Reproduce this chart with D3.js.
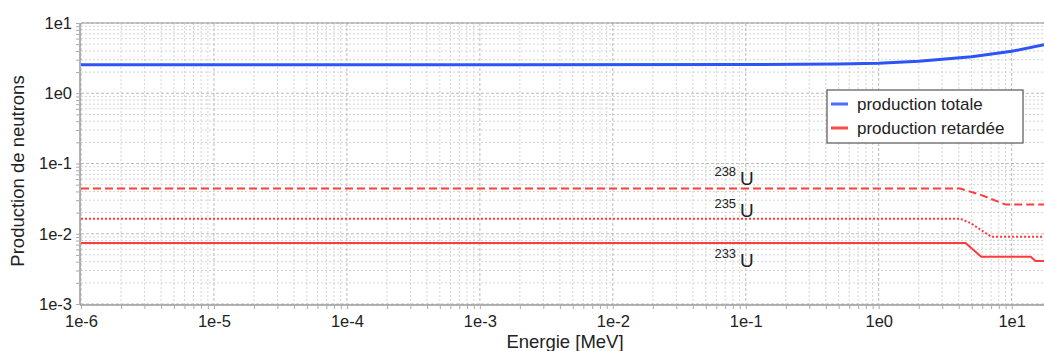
<!DOCTYPE html>
<html>
<head>
<meta charset="utf-8">
<script src="https://cdn.jsdelivr.net/npm/d3@7"></script>
<style>
  body { margin: 0; background: #fff; }
  svg { font-family: "Liberation Sans", Arial, sans-serif; }
</style>
</head>
<body>
<svg id="chart" width="1044" height="351"></svg>
<script>
// data (energy in MeV, production)
var totalE   = [1e-6, 1e-3, 0.1, 0.5, 1, 2, 5, 10, 17.5]
var totalV   = [2.55, 2.55, 2.56, 2.6, 2.68, 2.85, 3.3, 3.95, 4.9]

var u238E = [1e-6, 4.1, 5.8, 9.0, 17.5]
var u238V = [0.044, 0.044, 0.036, 0.026, 0.026]

var u235E = [1e-6, 4.1, 4.9, 7.0, 17.5]
var u235V = [0.0164, 0.0164, 0.0142, 0.0091, 0.0091]

var u233E = [1e-6, 4.5, 5.9, 13.9, 15.1, 17.5]
var u233V = [0.0074, 0.0074, 0.0047, 0.0047, 0.0041, 0.0041]

var xTickLabels = ["1e-6", "1e-5", "1e-4", "1e-3", "1e-2", "1e-1", "1e0", "1e1"]
var yTickLabels = ["1e-3", "1e-2", "1e-1", "1e0", "1e1"]

var isotopeLabels = [
    {mass: "238", E: 0.115, v: 0.05},
    {mass: "235", E: 0.115, v: 0.0175},
    {mass: "233", E: 0.115, v: 0.0034}
]

var svg = d3.select("#chart")
var margin = {top: 23, right: 0, bottom: 47, left: 81},
    width = 1044 - margin.left - margin.right,
    height = 351 - margin.top - margin.bottom

var x = d3.scaleLog().domain([1e-6, 17.5]).range([margin.left, margin.left + width])
var y = d3.scaleLog().domain([1e-3, 10]).range([margin.top + height, margin.top])

// grid lines
var minorX = [], minorY = []
for (var p = -6; p <= 1; p++) {
    for (var m = 2; m <= 9; m++) {
        var v = m * Math.pow(10, p)
        if (v < x.domain()[1]) minorX.push(v)
    }
}
for (var p = -3; p < 1; p++) {
    for (var m = 2; m <= 9; m++) minorY.push(m * Math.pow(10, p))
}
var majorX = xTickLabels.map(function(s){ return +s })
var majorY = yTickLabels.map(function(s){ return +s })

var grid = svg.append("g")
grid.selectAll(".gxm").data(minorX).enter().append("line")
    .attr("x1", function(d){ return x(d) }).attr("x2", function(d){ return x(d) })
    .attr("y1", margin.top).attr("y2", margin.top + height)
    .attr("stroke", "#d4d4d4").attr("stroke-dasharray", "2,2")
grid.selectAll(".gym").data(minorY).enter().append("line")
    .attr("x1", margin.left).attr("x2", margin.left + width)
    .attr("y1", function(d){ return y(d) }).attr("y2", function(d){ return y(d) })
    .attr("stroke", "#d4d4d4").attr("stroke-dasharray", "2,2")
grid.selectAll(".gx").data(majorX).enter().append("line")
    .attr("x1", function(d){ return x(d) }).attr("x2", function(d){ return x(d) })
    .attr("y1", margin.top).attr("y2", margin.top + height)
    .attr("stroke", "#bbb").attr("stroke-dasharray", "3,2")
grid.selectAll(".gy").data(majorY).enter().append("line")
    .attr("x1", margin.left).attr("x2", margin.left + width)
    .attr("y1", function(d){ return y(d) }).attr("y2", function(d){ return y(d) })
    .attr("stroke", "#bbb").attr("stroke-dasharray", "3,2")

// frame
svg.append("line").attr("x1", margin.left).attr("x2", margin.left + width)
    .attr("y1", margin.top).attr("y2", margin.top).attr("stroke", "#999")
svg.append("line").attr("x1", margin.left - 1).attr("x2", margin.left - 1)
    .attr("y1", margin.top).attr("y2", margin.top + height + 1).attr("stroke", "#999").attr("stroke-width", 1.5)
svg.append("line").attr("x1", margin.left - 1).attr("x2", margin.left + width)
    .attr("y1", margin.top + height + 1).attr("y2", margin.top + height + 1).attr("stroke", "#999").attr("stroke-width", 1.5)

// axes
var xAxis = d3.axisBottom(x)
    .tickValues(majorX.concat(minorX))
    .tickSize(3)
    .tickFormat(function(d){ var i = majorX.indexOf(d); return i >= 0 ? xTickLabels[i] : "" })
var gx = svg.append("g").attr("transform", "translate(0," + (margin.top + height + 2) + ")").call(xAxis)
gx.select(".domain").remove()
gx.selectAll("line").attr("stroke", "#aaa")
gx.selectAll("text").attr("font-size", 16.5).attr("fill", "#222").attr("dy", "0.9em")

var yAxis = d3.axisLeft(y)
    .tickValues(majorY.concat(minorY))
    .tickSize(3)
    .tickFormat(function(d){ var i = majorY.indexOf(d); return i >= 0 ? yTickLabels[i] : "" })
var gy = svg.append("g").attr("transform", "translate(" + (margin.left - 2) + ",0)").call(yAxis)
gy.select(".domain").remove()
gy.selectAll("line").attr("stroke", "#aaa")
gy.selectAll("text").attr("font-size", 16.5).attr("fill", "#222").attr("x", -7)

// axis titles
svg.append("text").attr("x", 565).attr("y", 348).attr("text-anchor", "middle")
    .attr("font-size", 18.5).attr("fill", "#222").text("Energie [MeV]")
svg.append("text").attr("transform", "translate(24,171) rotate(-90)")
    .attr("text-anchor", "middle").attr("font-size", 18.5).attr("fill", "#222").text("Production de neutrons")

// curves
var line = d3.line()
    .x(function(d){ return x(d[0]) })
    .y(function(d){ return y(d[1]) })

function zip(a, b){ return a.map(function(d, i){ return [d, b[i]] }) }

svg.append("clipPath").attr("id", "plotclip").append("rect")
    .attr("x", margin.left).attr("y", margin.top).attr("width", width).attr("height", height)
var curves = svg.append("g").attr("clip-path", "url(#plotclip)")

curves.append("path").datum(zip(totalE, totalV)).attr("d", line)
    .attr("fill", "none").attr("stroke", "#2d55f5").attr("stroke-width", 3)
curves.append("path").datum(zip(u238E, u238V)).attr("d", line)
    .attr("fill", "none").attr("stroke", "#ff3b3b").attr("stroke-width", 2).attr("stroke-dasharray", "8,4")
curves.append("path").datum(zip(u235E, u235V)).attr("d", line)
    .attr("fill", "none").attr("stroke", "#ff3b3b").attr("stroke-width", 2).attr("stroke-dasharray", "2,2")
curves.append("path").datum(zip(u233E, u233V)).attr("d", line)
    .attr("fill", "none").attr("stroke", "#ff3b3b").attr("stroke-width", 2)

// isotope labels
isotopeLabels.forEach(function(l){
    var t = svg.append("text").attr("x", x(l.E)).attr("y", y(l.v)).attr("text-anchor", "end").attr("fill", "#222")
    t.append("tspan").attr("font-size", 13).attr("dy", -9).text(l.mass)
    t.append("tspan").attr("font-size", 19).attr("dx", 4).attr("dy", 9).text("U")
})

// legend
var legend = svg.append("g").attr("transform", "translate(827,90)")
legend.append("rect").attr("width", 196).attr("height", 53)
    .attr("fill", "#fff").attr("stroke", "#555").attr("stroke-width", 1.2)
var legendItems = [{label: "production totale", color: "#4a6cff"}, {label: "production retardée", color: "#ff4a4a"}]
legendItems.forEach(function(d, i){
    var yy = 14 + i * 24
    legend.append("line").attr("x1", 4).attr("x2", 21).attr("y1", yy).attr("y2", yy)
        .attr("stroke", d.color).attr("stroke-width", 3)
    legend.append("text").attr("x", 30).attr("y", yy + 6).attr("font-size", 17)
        .attr("fill", "#222").text(d.label)
})
</script>
</body>
</html>
